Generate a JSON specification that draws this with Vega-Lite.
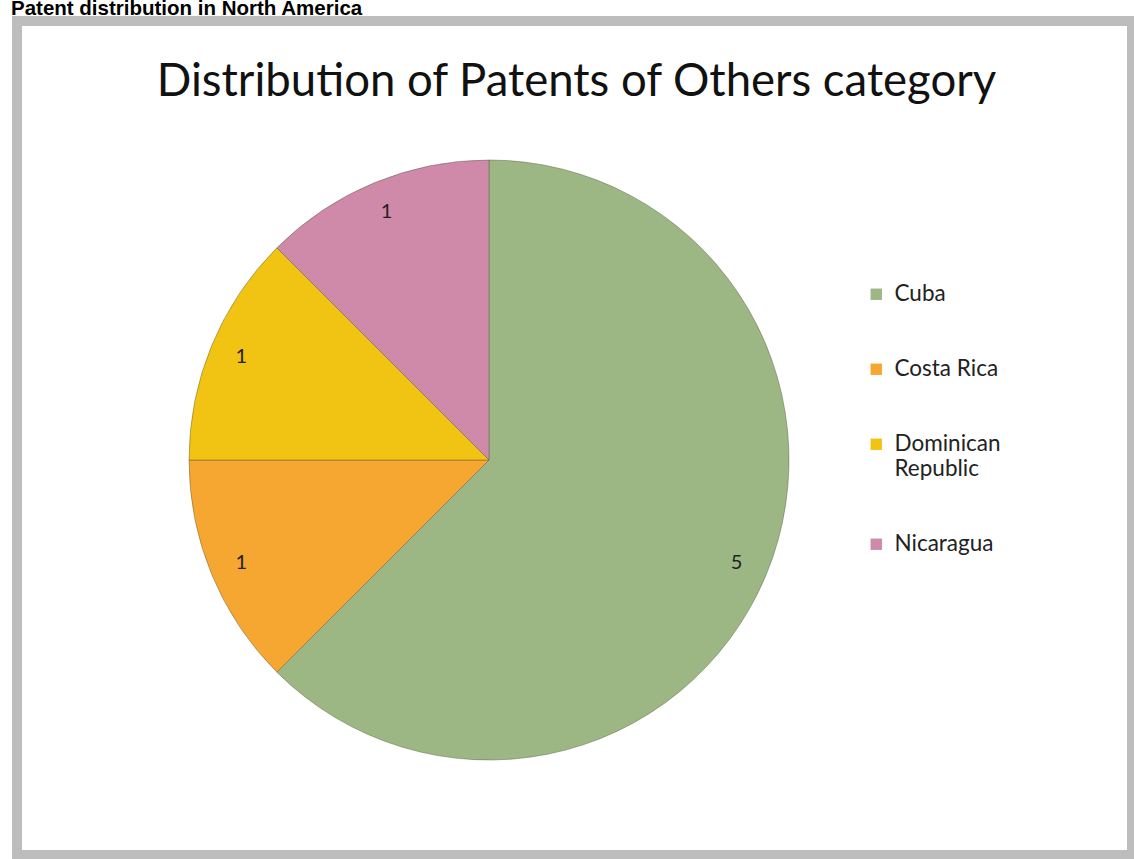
{
  "$schema": "https://vega.github.io/schema/vega-lite/v6.json",
  "background": "white",
  "padding": {"left": 11, "top": -2, "right": 0, "bottom": 0},
  "title": {
    "text": "Patent distribution in North America",
    "anchor": "start",
    "font": "Liberation Sans",
    "fontSize": 20.5,
    "fontWeight": "bold",
    "color": "black",
    "dx": -1,
    "dy": -1,
    "offset": -4
  },
  "data": {
    "values": [
      {"country": "Cuba", "patents": 5, "rank": 1},
      {"country": "Costa Rica", "patents": 1, "rank": 2},
      {"country": "Dominican Republic", "patents": 1, "rank": 3},
      {"country": "Nicaragua", "patents": 1, "rank": 4}
    ]
  },
  "vconcat": [
    {
      "width": 1115,
      "height": 834,
      "view": {"stroke": "#bdbdbd", "strokeWidth": 10, "fill": "white"},
      "title": {
        "text": "Distribution of Patents of Others category",
        "anchor": "middle",
        "font": "Lato",
        "fontSize": 45.5,
        "fontWeight": "normal",
        "color": "#111111",
        "dx": 2,
        "offset": -84
      },
      "encoding": {
        "theta": {"field": "patents", "type": "quantitative", "stack": true},
        "order": {"field": "rank", "type": "quantitative"},
        "color": {
          "field": "country",
          "type": "nominal",
          "scale": {
            "domain": ["Cuba", "Costa Rica", "Dominican Republic", "Nicaragua"],
            "range": ["#9db784", "#f6a732", "#f1c312", "#cf8aa9"]
          },
          "legend": {
            "title": null,
            "orient": "none",
            "legendX": 848,
            "legendY": 262,
            "symbolType": "square",
            "symbolSize": 130,
            "symbolStrokeWidth": 0,
            "labelFont": "Lato",
            "labelFontSize": 22.5,
            "labelColor": "#222222",
            "labelOffset": 7,
            "rowPadding": 52,
            "labelLimit": 300,
            "labelExpr": "datum.label == 'Dominican Republic' ? ['Dominican', 'Republic'] : datum.label"
          }
        }
      },
      "layer": [
        {
          "mark": {
            "type": "arc",
            "radius": 300,
            "x": 472,
            "y": 439,
            "stroke": "#5a5a40",
            "strokeOpacity": 0.45,
            "strokeWidth": 1
          }
        },
        {
          "mark": {
            "type": "text",
            "radius": 268,
            "x": 472,
            "y": 439,
            "font": "Lato",
            "fontSize": 20,
            "color": "#222222"
          },
          "encoding": {
            "text": {"field": "patents", "type": "quantitative"},
            "color": {"value": "#222222"}
          }
        }
      ]
    }
  ],
  "config": {
    "view": {"stroke": "#bdbdbd", "strokeWidth": 10}
  }
}
